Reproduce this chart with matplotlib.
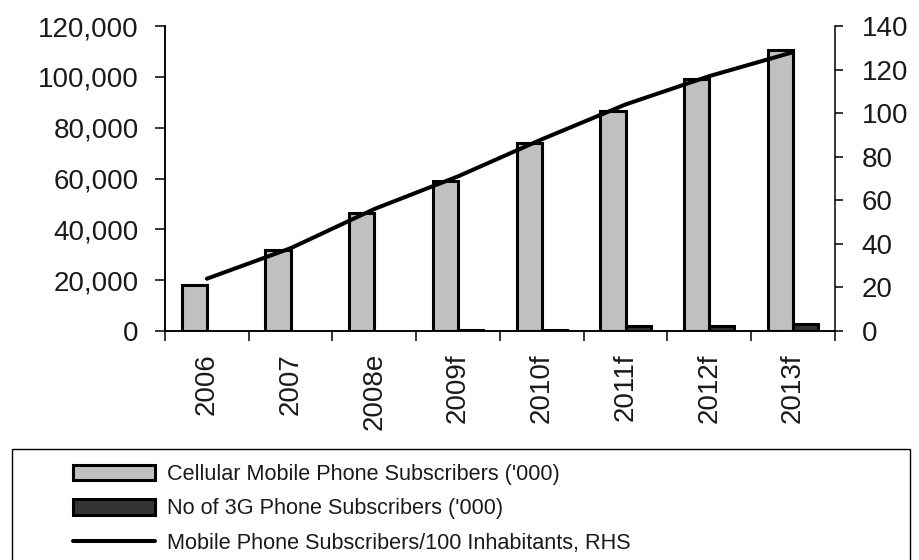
import numpy as np
import matplotlib
matplotlib.use("Agg")
import matplotlib.pyplot as plt
from matplotlib.patches import Rectangle, Patch
from matplotlib.ticker import FuncFormatter

# --- datos ---
years = ['2006', '2007', '2008e', '2009f', '2010f', '2011f', '2012f', '2013f']
cellular = [18000, 32000, 46500, 59000, 74000, 86500, 99000, 110500]   # ('000)
subs_3g = [0, 0, 0, 400, 500, 1900, 2000, 2600]                       # ('000)
per_100 = [24, 38, 56, 71, 88, 104, 117, 128]                         # RHS

left_ticks = [0, 20000, 40000, 60000, 80000, 100000, 120000]
right_ticks = [0, 20, 40, 60, 80, 100, 120, 140]

labels = ["Cellular Mobile Phone Subscribers ('000)",
          "No of 3G Phone Subscribers ('000)",
          "Mobile Phone Subscribers/100 Inhabitants, RHS"]

TXT = '#1a1a1a'
GRIS = '#c0c0c0'
OSCURO = '#333333'
plt.rcParams['font.family'] = ['Liberation Sans', 'DejaVu Sans']

fig = plt.figure(figsize=(9.2, 5.6), dpi=100)
ax = fig.add_axes([165 / 920, 229 / 560, 670 / 920, 305 / 560])
ax2 = ax.twinx()

x = np.arange(len(years))
w = 0.3
lw = [2.2 if v > 0 else 0 for v in subs_3g]
ax.bar(x - w / 2, cellular, w, color=GRIS, edgecolor='black', linewidth=2.2)
ax.bar(x + w / 2, subs_3g, w, color=OSCURO, edgecolor='black', linewidth=lw)
ln, = ax2.plot(x, per_100, color='black', linewidth=2.9, solid_capstyle='round')

ax.set_xlim(-0.5, len(years) - 0.5)
ax.set_ylim(0, 120000)
ax2.set_ylim(0, 140)

# ejes
for a in (ax, ax2):
    a.spines['top'].set_visible(False)
    for s in a.spines.values():
        s.set_linewidth(1.1)
ax.spines['right'].set_visible(False)

ax.set_xticks(np.arange(len(years) + 1) - 0.5)
ax.set_xticklabels([])
ax.set_xticks(x, minor=True)
ax.set_xticklabels(years, minor=True, rotation=90, fontsize=20, color=TXT)
ax.tick_params(axis='x', which='major', length=7, width=1.1)
ax.tick_params(axis='x', which='minor', length=0, pad=16)

ax.set_yticks(left_ticks)
ax.yaxis.set_major_formatter(FuncFormatter(lambda v, p: f"{int(v):,}"))
ax.tick_params(axis='y', length=7, width=1.1, pad=12, labelsize=20, labelcolor=TXT)

ax2.set_yticks(right_ticks)
ax2.tick_params(axis='y', length=6, width=1.1, pad=13, labelsize=20, labelcolor=TXT)

# leyenda con marco propio
fig.patches.append(Rectangle((12 / 920, -0.01), 898 / 920, 1 - 449 / 560 + 0.01,
                             transform=fig.transFigure, fill=False,
                             edgecolor='black', linewidth=1.0))
h1 = Patch(facecolor=GRIS, edgecolor='black', linewidth=2.2)
h2 = Patch(facecolor=OSCURO, edgecolor='black', linewidth=2.2)
fig.legend([h1, h2, ln], labels, loc='upper left',
           bbox_to_anchor=(60 / 920, 1 - 451 / 560), frameon=False,
           prop={'size': 15.6},
           handlelength=3.8, handleheight=0.75, handletextpad=0.55,
           labelspacing=0.62, borderpad=0.1, labelcolor=TXT)

fig.savefig('out.png', dpi=100)
